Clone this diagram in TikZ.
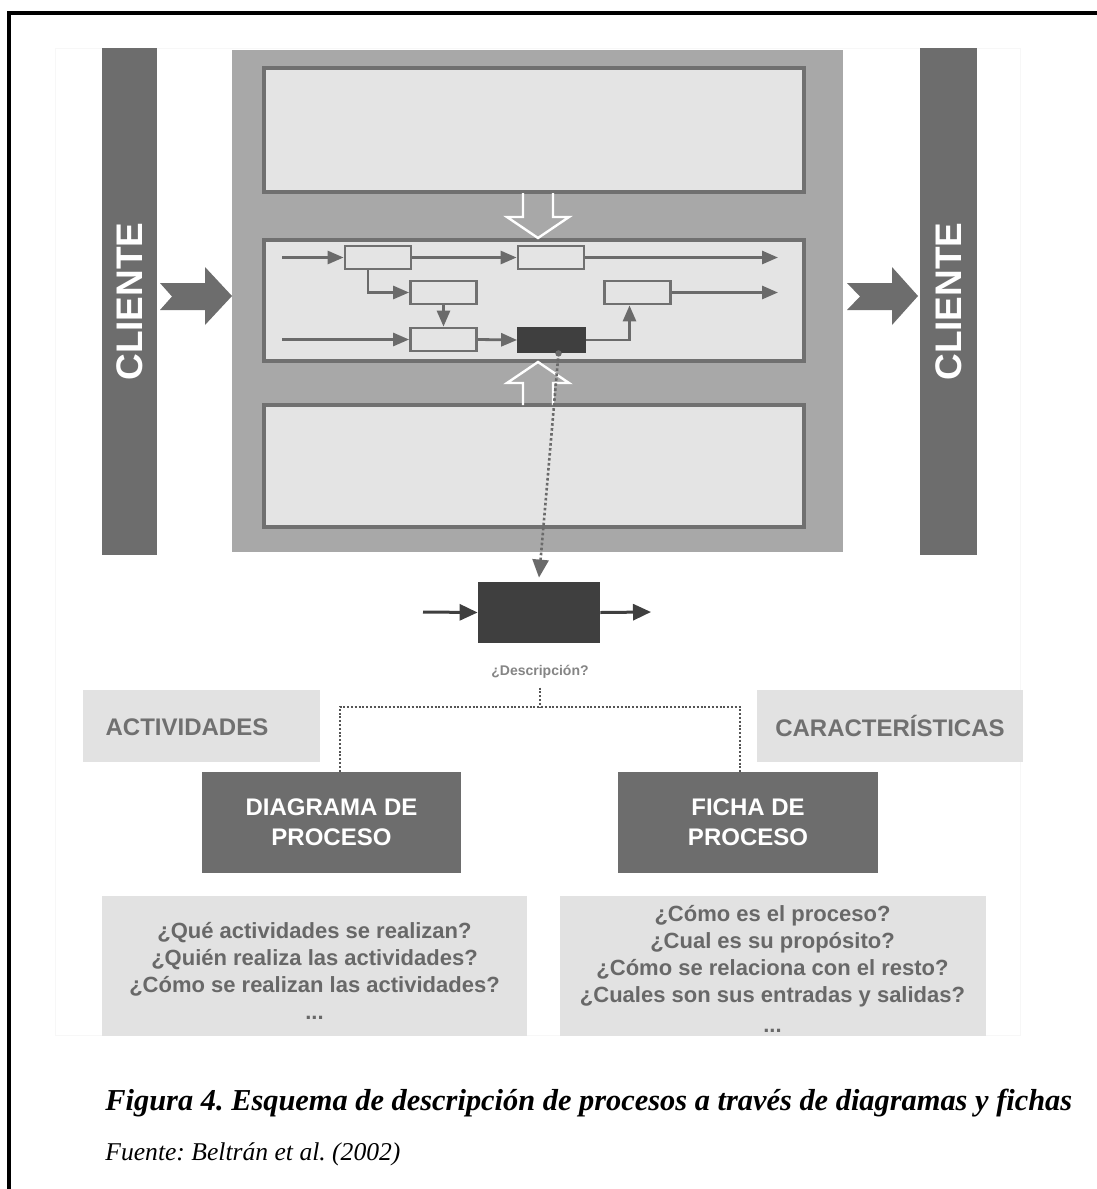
\documentclass[tikz,border=0pt]{standalone}
\usepackage{fontspec}
\setmainfont{Liberation Sans}
\newfontfamily\capserif{Liberation Serif}
\usetikzlibrary{arrows.meta,calc}
\definecolor{bargray}{HTML}{6D6D6D}
\definecolor{biggray}{HTML}{A8A8A8}
\definecolor{lanefill}{HTML}{E4E4E4}
\definecolor{laneline}{HTML}{707070}
\definecolor{flowgray}{HTML}{6A6A6A}
\definecolor{darkbox}{HTML}{3F3F3F}
\definecolor{lightbox}{HTML}{E2E2E2}
\definecolor{labelgray}{HTML}{707070}
\definecolor{qgray}{HTML}{686868}
\definecolor{dotgray}{HTML}{555555}
\frenchspacing
\begin{document}
\begin{tikzpicture}[x=0.5pt,y=-0.5pt,
  bar/.style={fill=bargray, inner sep=0pt, text=white,
    font=\fontsize{18.5}{20}\selectfont\bfseries},
  lane/.style={draw=laneline, line width=1.8pt, fill=lanefill, inner sep=0pt,
    minimum width=270pt},
  flowbox/.style={draw=laneline, line width=1.4pt, fill=lanefill, inner sep=0pt,
    minimum width=33pt, minimum height=11.5pt},
  flowarrow/.style={draw=flowgray, line width=1.4pt,
    -{Triangle[length=8pt,width=6.5pt]}},
  hollow/.style={draw=white, line width=1.2pt, line join=miter},
  bigarrow/.style={fill=bargray},
  tagbox/.style={fill=lightbox, inner sep=0pt, minimum height=36pt},
  docbox/.style={fill=bargray, inner sep=0pt, minimum width=130pt, minimum height=50.5pt,
    text=white, align=center, font=\fontsize{12}{15}\selectfont\bfseries},
  qbox/.style={fill=lightbox, inner sep=0pt, minimum width=213pt, minimum height=70pt},
  qtext/.style={text=qgray, align=center, font=\fontsize{11}{13.5}\selectfont\bfseries},
  treeline/.style={draw=dotgray, line width=1pt, dash pattern=on 1pt off 0.9pt}
]
\useasboundingbox (0,0) rectangle (1097,1189);

% page frame, open to the right and below
\draw[line width=2pt] (9,1189) -- (9,13) -- (1097,13);

% faint backdrop of the scheme
\filldraw[fill=white, draw=black!3, line width=0.4pt] (55,48) rectangle (1020,1035);

% customer bars
\node[bar, rotate=90, minimum width=253.5pt, minimum height=27.5pt] (cliL) at (129.5,301.5) {CLIENTE};
\node[bar, rotate=90, minimum width=253.5pt, minimum height=28.5pt] (cliR) at (948.5,301.5) {CLIENTE};

% process map
\node[fill=biggray, inner sep=0pt, minimum width=305.5pt, minimum height=251pt] (map) at (537.5,301) {};
\node[lane, minimum height=62pt] (laneT) at (534,130) {};
\node[lane, minimum height=60.5pt] (laneM) at (534,300.5) {};
\node[lane, minimum height=61pt] (laneB) at (534,466) {};

% block arrows in and out
\fill[bigarrow] (160,283) -- (205,283) -- (205,267) -- (232,296) -- (205,325)
  -- (205,310) -- (160,310) -- (172,296.5) -- cycle;
\fill[bigarrow] (847,283) -- (892,283) -- (892,267) -- (918,296) -- (892,325)
  -- (892,310) -- (847,310) -- (860,296.5) -- cycle;

% hollow arrows between lanes
\draw[hollow] (523,193) -- (523,217) -- (507,217) -- (538,238) -- (569,217)
  -- (553,217) -- (553,193);
\draw[hollow] (523,405) -- (523,383) -- (507,383) -- (538,362) -- (569,383)
  -- (553,383) -- (553,405);

% activities inside the central lane
\node[flowbox] (A) at (378,257.5) {};
\node[flowbox] (B) at (551,257.5) {};
\node[flowbox] (C) at (443.5,292.5) {};
\node[flowbox] (D) at (637.5,292.5) {};
\node[flowbox] (E) at (443.5,339.5) {};
\node[flowbox, fill=darkbox, draw=darkbox, minimum height=12pt] (F) at (551.5,340) {};

\coordinate (in1) at (282,257.5);
\coordinate (in3) at (282,339.5);
\coordinate (out1) at (778,257.5);
\coordinate (out2) at (778,292.5);

\draw[flowarrow] (in1) -- (A.west);
\draw[flowarrow] (A.east) -- (B.west);
\draw[flowarrow] (B.east) -- (out1);
\draw[flowarrow] ([xshift=-5pt]A.south) |- (C.west);
\draw[flowarrow] (C.south) -- (E.north);
\draw[flowarrow] (in3) -- (E.west);
\draw[flowarrow] (E.east) -- (F.west);
\draw[flowarrow] (F.east) -| ([xshift=-4pt]D.south);
\draw[flowarrow] (D.east) -- (out2);

% zoomed activity
\node[fill=darkbox, inner sep=0pt, minimum width=61pt, minimum height=30.5pt] (act) at (539,612.5) {};
\coordinate (actin) at (423,612);
\coordinate (actout) at (651,612);
\draw[draw=darkbox, line width=1.5pt, -{Triangle[length=9pt,width=8pt]}] (actin) -- (act.west);
\draw[draw=darkbox, line width=1.5pt, -{Triangle[length=9pt,width=8pt]}] (act.east) -- (actout);

\fill[flowgray] ([xshift=3.5pt]F.south) circle (1.6pt);
\draw[draw=flowgray, line width=1.3pt, dash pattern=on 1.3pt off 1.2pt,
  -{Triangle[length=9pt,width=8pt]}] ([xshift=3.5pt]F.south) -- ([yshift=2pt]act.north);

\node[text=labelgray!85, font=\fontsize{7}{8}\selectfont\bfseries] (desc) at (540,672) {¿Descripción?};

% description branches
\node[tagbox, minimum width=118.5pt] (tagA) at (201.5,726) {};
\node[text=labelgray, font=\fontsize{12}{14}\selectfont\bfseries] at (187,727) {ACTIVIDADES};
\node[tagbox, minimum width=133pt, text=labelgray, font=\fontsize{12}{14}\selectfont\bfseries] (tagC) at (890,726) {CARACTERÍSTICAS};

\node[docbox, minimum width=129.5pt] (dgm) at (331.5,822.5) {DIAGRAMA DE\\PROCESO};
\node[docbox] (fch) at (748,822.5) {FICHA DE\\PROCESO};

\coordinate (j) at (540,707);
\draw[treeline] ([yshift=-1pt]desc.south) -- (j);
\draw[treeline] ([xshift=4pt]dgm.north) |- (j) -| ([xshift=-4pt]fch.north);

\node[qbox, minimum width=212.5pt] (qA) at (314.5,966) {};
\node[qtext] at (314.5,971) {¿Qué actividades se realizan?\\¿Quién realiza las actividades?\\¿Cómo se realizan las actividades?\\...};
\node[qbox] (qB) at (772.5,966) {};
\node[qtext] at (772.5,969) {¿Cómo es el proceso?\\¿Cual es su propósito?\\¿Cómo se relaciona con el resto?\\¿Cuales son sus entradas y salidas?\\[1.5pt]...};

% caption
\node[anchor=base west, inner sep=0pt, font=\capserif\fontsize{15.2}{17}\selectfont\bfseries\itshape] (cap) at (105,1110)
  {Figura 4. Esquema de descripción de procesos a través de diagramas y fichas};
\node[anchor=base west, inner sep=0pt, font=\capserif\fontsize{12.8}{15}\selectfont\itshape] (src) at (105,1160)
  {Fuente: Beltrán et al. (2002)};
\end{tikzpicture}
\end{document}
